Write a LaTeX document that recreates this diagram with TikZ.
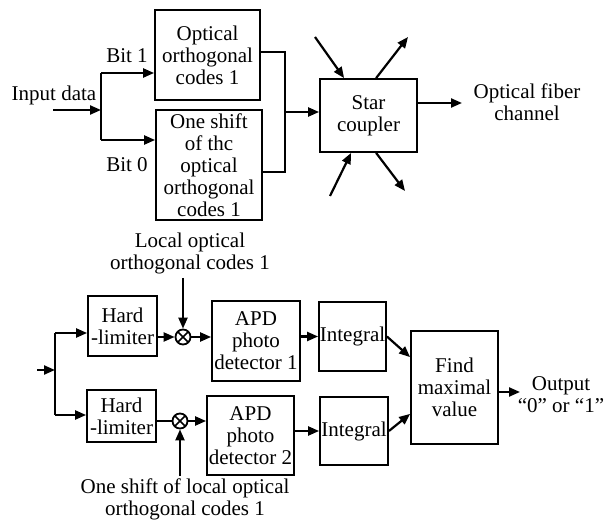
\documentclass[tikz,border=0pt]{standalone}
\usepackage{fontspec}
\setmainfont{Liberation Serif}
\usetikzlibrary{arrows.meta}
\newcommand\fsz{\fontsize{21}{22}\selectfont}
\begin{document}
\begin{tikzpicture}[x=1pt,y=-1pt,
  box/.style={draw,line width=1.8pt,inner sep=0pt,align=center,font=\fsz},
  lbl/.style={inner sep=0pt,align=center,font=\fsz},
  arr/.style={line width=2.2pt,-{Triangle[length=11pt,width=9pt]}},
  wire/.style={line width=2.2pt},
  thinwire/.style={line width=1.1pt},
  mix/.style={circle,draw,line width=1.8pt,minimum size=15pt,inner sep=0pt,
    path picture={\draw[line width=1.6pt] (path picture bounding box.north west) -- (path picture bounding box.south east) (path picture bounding box.south west) -- (path picture bounding box.north east);}}
]
\useasboundingbox (0,0) rectangle (605,521);
\fill[white] (0,0) rectangle (605,521);

% ---------- top part ----------
\node[box,minimum width=105pt,minimum height=90pt] (ooc) at (207.5,55) {Optical\\orthogonal\\codes 1};
\node[box,minimum width=106pt,minimum height=110pt] (shift) at (209,165) {One shift\\of thc\\optical\\orthogonal\\codes 1};
\node[box,minimum width=97pt,minimum height=73pt] (star) at (368.5,115.5) {Star\\coupler};
\node[lbl] (input) at (54,95) {Input data};
\node[lbl] (bit1) at (127,56) {Bit 1};
\node[lbl] (bit0) at (127,165) {Bit 0};
\node[lbl] (fiber) at (527,102) {Optical fiber\\channel};

\coordinate (in0) at (53,110);
\coordinate (j) at (101,110);
\coordinate (b1) at (101,73);
\coordinate (b0) at (101,140);
\coordinate (m1) at (285,52);
\coordinate (m0) at (285,172);
\coordinate (mm) at (285,112);
\coordinate (fo) at (462,103);
\coordinate (s1) at (315,37);
\coordinate (s2) at (408,37);
\coordinate (s3) at (330,196);
\coordinate (s4) at (405,191);

\draw[arr] (in0) -- (j);
\draw[wire] (b1) -- (b0);
\draw[arr] (b1) -- (ooc.west|-b1);
\draw[arr] (b0) -- (shift.west|-b0);
\draw[thinwire] (ooc.east|-m1) -- (m1) -- (m0) -- (shift.east|-m0);
\draw[arr] (mm) -- (star.west|-mm);
\draw[arr] (star.east|-fo) -- (fo);
\draw[arr] (s1) -- ([xshift=25pt]star.north west);
\draw[arr] ([xshift=57pt]star.north west) -- (s2);
\draw[arr] (s3) -- ([xshift=32pt]star.south west);
\draw[arr] ([xshift=57pt]star.south west) -- (s4);

% ---------- bottom part ----------
\node[lbl] (local) at (190,253) {Local optical\\orthogonal codes 1};
\node[box,minimum width=69pt,minimum height=60pt] (hl1) at (122.5,326) {Hard\\-limiter};
\node[box,minimum width=69pt,minimum height=52pt] (hl2) at (121.5,416) {Hard\\-limiter};
\node[mix] (x1) at (183,337) {};
\node[mix] (x2) at (180,421) {};
\node[box,minimum width=88pt,minimum height=80pt] (apd1) at (256,341) {APD\\photo\\detector 1};
\node[box,minimum width=87pt,minimum height=79pt] (apd2) at (250.5,435.5) {APD\\photo\\detector 2};
\node[box,minimum width=67pt,minimum height=69pt] (int1) at (352.5,336.5) {Integral};
\node[box,minimum width=68pt,minimum height=68pt] (int2) at (354,431) {Integral};
\node[box,minimum width=87pt,minimum height=113pt] (fmv) at (454.5,387.5) {Find\\maximal\\value};
\node[lbl] (oneshift) at (185,499) {One shift of local optical\\orthogonal codes 1};
\node[lbl] (out) at (561,395) {Output\\``0'' or ``1''};

\coordinate (in1) at (37,370);
\coordinate (j1) at (55,370);
\coordinate (c1) at (55,333);
\coordinate (c0) at (55,415);
\coordinate (oa) at (520,392);

\draw[arr] (in1) -- (j1);
\draw[wire] (c1) -- (c0);
\draw[arr] (c1) -- (hl1.west|-c1);
\draw[arr] (c0) -- (hl2.west|-c0);
\draw[arr] (hl1.east|-x1) -- (x1);
\draw[arr] (x1) -- (apd1.west|-x1);
\draw[arr,shorten <=4pt] (x1|-local.south) -- (x1);
\draw[wire] (hl2.east|-x2) -- (x2);
\draw[arr] (x2) -- (apd2.west|-x2);
\draw[arr,shorten <=2pt] (x2|-oneshift.north) -- (x2);
\draw[arr] (apd1.east|-int1.west) -- (int1.west);
\draw[arr] (apd2.east|-int2.west) -- (int2.west);
\draw[arr] (int1.east) -- ([yshift=-27pt]fmv.north west);
\draw[arr] (int2.east) -- ([yshift=31pt]fmv.south west);
\draw[arr] (fmv.east|-oa) -- (oa);
\end{tikzpicture}
\end{document}
